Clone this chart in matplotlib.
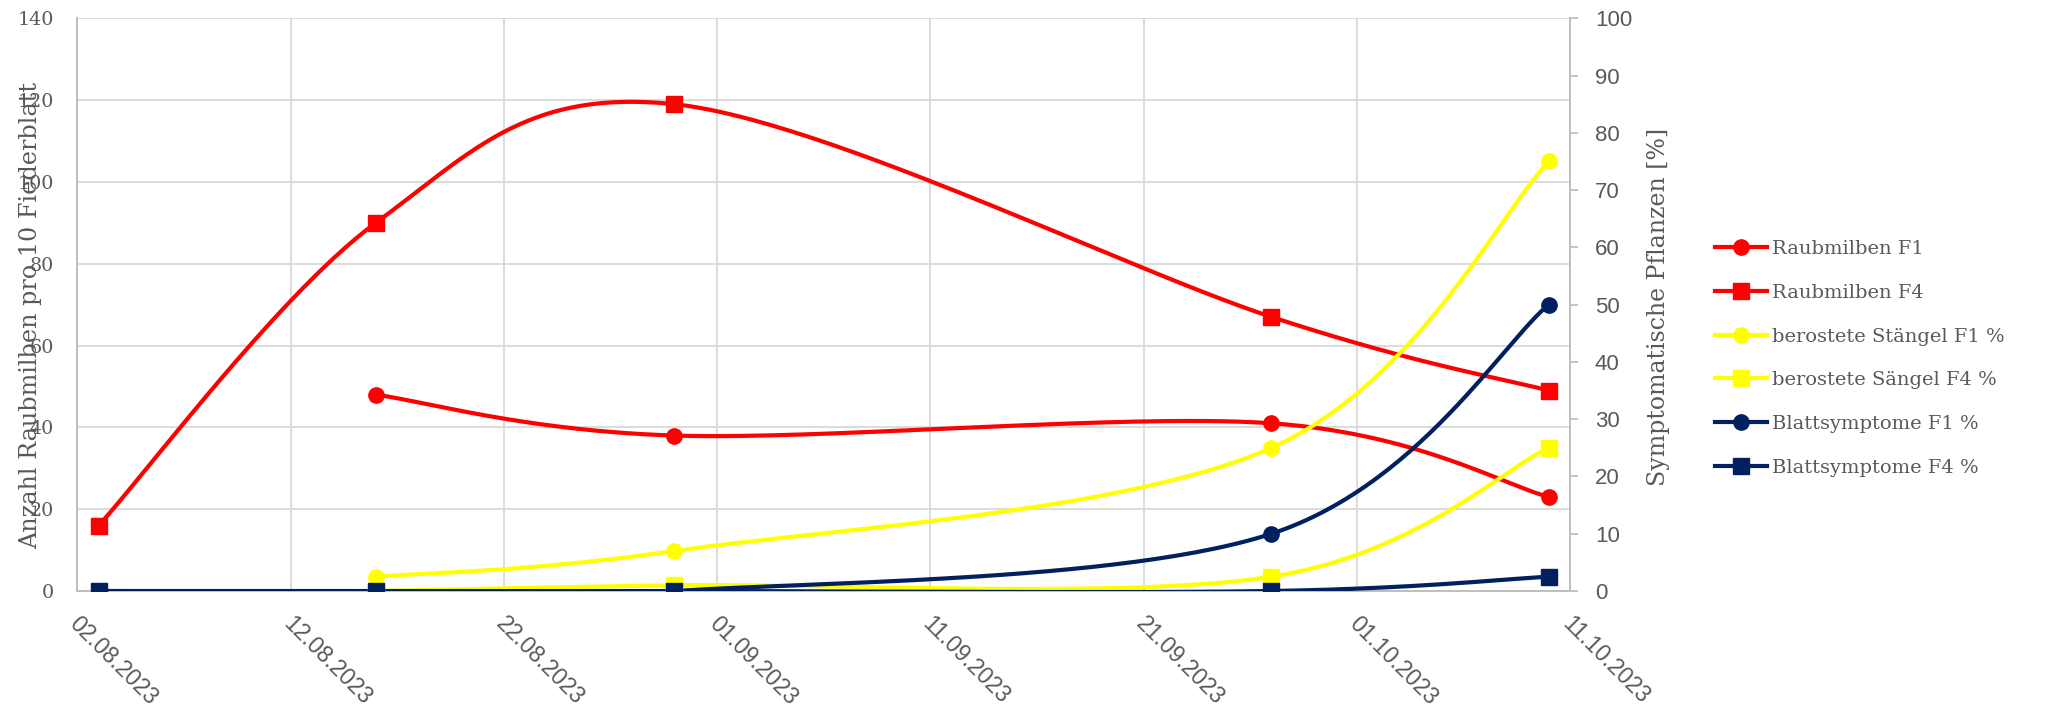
import numpy as np
import matplotlib
matplotlib.use("Agg")
import matplotlib.pyplot as plt
import matplotlib.dates as mdates
import matplotlib.transforms as mtransforms
from datetime import date

# ---- data -------------------------------------------------------------
dates_all = ["03.08.2023", "16.08.2023", "30.08.2023", "27.09.2023", "10.10.2023"]
dates_late = ["16.08.2023", "30.08.2023", "27.09.2023", "10.10.2023"]

raubmilben_f1 = [48, 38, 41, 23]            # left axis, from 16.08
raubmilben_f4 = [16, 90, 119, 67, 49]       # left axis, from 03.08
stengel_f1 = [2.5, 7, 25, 75]               # right axis (%), from 16.08
stengel_f4 = [0, 1, 2.5, 25]                # right axis (%), from 16.08
blatt_f1 = [0, 0, 10, 50]                   # right axis (%), from 16.08
blatt_f4 = [0, 0, 0, 0, 2.5]                # right axis (%), from 03.08

series_labels = ["Raubmilben F1", "Raubmilben F4", "berostete Stängel F1 %",
                 "berostete Sängel F4 %", "Blattsymptome F1 %", "Blattsymptome F4 %"]

x_start = "02.08.2023"
x_end = "11.10.2023"
tick_step_days = 10

left_label = "Anzahl Raubmilben pro 10 Fiederblatt"
right_label = "Symptomatische Pflanzen [%]"

RED = "#FF0000"
YELLOW = "#FFFF00"
NAVY = "#002060"
TEXT = "#595959"
GRID = "#D9D9D9"
AXIS = "#BFBFBF"


def to_num(s):
    d, m, y = (int(p) for p in s.split("."))
    return mdates.date2num(date(y, m, d))


def smooth(xs, ys, n=60):
    """Bezier smoothing through all points (spreadsheet-style smoothed line)."""
    P = np.column_stack([xs, ys]).astype(float)
    k = len(P)
    out = [P[0:1]]
    t = np.linspace(0, 1, n)[1:, None]
    for i in range(k - 1):
        p0 = P[i - 1] if i > 0 else P[i]
        p1, p2 = P[i], P[i + 1]
        p3 = P[i + 2] if i + 2 < k else P[i + 1]
        c1 = p1 + (p2 - p0) / 6.0
        c2 = p2 - (p3 - p1) / 6.0
        seg = ((1 - t) ** 3) * p1 + 3 * ((1 - t) ** 2) * t * c1 + 3 * (1 - t) * t ** 2 * c2 + t ** 3 * p2
        out.append(seg)
    pts = np.vstack(out)
    return pts[:, 0], pts[:, 1]


x_all = [to_num(s) for s in dates_all]
x_late = [to_num(s) for s in dates_late]

fig = plt.figure(figsize=(20.48, 7.09), dpi=100)
ax = fig.add_axes([0.03774, 0.16643, 0.72886, 0.80776])
ax2 = ax.twinx()

LW = 3.0
MS = 11

def draw(axis, xs, ys, color, marker, label):
    sx, sy = smooth(xs, ys)
    axis.plot(sx, sy, color=color, lw=LW, solid_capstyle="round", zorder=3)
    axis.plot(xs, ys, linestyle="none", marker=marker, ms=MS, color=color,
              markeredgecolor=color, zorder=4)
    return plt.Line2D([], [], color=color, lw=LW, marker=marker, ms=MS,
                      markeredgecolor=color, label=label)

handles = []
handles.append(draw(ax, x_late, raubmilben_f1, RED, "o", series_labels[0]))
handles.append(draw(ax, x_all, raubmilben_f4, RED, "s", series_labels[1]))
handles.append(draw(ax2, x_late, stengel_f1, YELLOW, "o", series_labels[2]))
handles.append(draw(ax2, x_late, stengel_f4, YELLOW, "s", series_labels[3]))
handles.append(draw(ax2, x_late, blatt_f1, NAVY, "o", series_labels[4]))
handles.append(draw(ax2, x_all, blatt_f4, NAVY, "s", series_labels[5]))

# ---- axes ---------------------------------------------------------------
x0, x1 = to_num(x_start), to_num(x_end)
ax.set_xlim(x0, x1)
ax.set_ylim(0, 140)
ax2.set_ylim(0, 100)
ax.set_yticks(np.arange(0, 141, 20))
ax2.set_yticks(np.arange(0, 101, 10))
xt = np.arange(x0, x1 + 0.5, tick_step_days)
ax.set_xticks(xt)
ax.xaxis.set_major_formatter(mdates.DateFormatter("%d.%m.%Y"))

ax.grid(True, color=GRID, lw=1.3, zorder=0)
ax.set_axisbelow(True)

for s in ["top", "right"]:
    ax.spines[s].set_visible(False)
for s in ["top", "left", "bottom"]:
    ax2.spines[s].set_visible(False)
for s in ["left", "bottom"]:
    ax.spines[s].set_color(AXIS)
    ax.spines[s].set_linewidth(1.4)
ax2.spines["right"].set_color(AXIS)
ax2.spines["right"].set_linewidth(1.4)

ax.tick_params(axis="y", length=0, pad=17, labelsize=13.8, labelcolor=TEXT)
ax.tick_params(axis="x", length=0, pad=15, labelsize=16.5, labelcolor=TEXT)
ax2.tick_params(axis="y", length=6, width=1.3, color=AXIS, pad=12,
                labelsize=16, labelcolor=TEXT)

for lab in ax.get_yticklabels():
    lab.set_fontfamily("DejaVu Serif")
for lab in ax2.get_yticklabels():
    lab.set_fontfamily("Liberation Sans")

offset = mtransforms.ScaledTranslation(4 / 100, 0, fig.dpi_scale_trans)
for lab in ax.get_xticklabels():
    lab.set_fontfamily("Liberation Sans")
    lab.set_rotation(-45)
    lab.set_ha("left")
    lab.set_va("top")
    lab.set_rotation_mode("anchor")
    lab.set_transform(lab.get_transform() + offset)

# axis titles
fig.text(0.0150, 0.5557, left_label, rotation=90, ha="center", va="center",
         fontsize=17.2, color=TEXT, family="DejaVu Serif")
fig.text(0.8096, 0.567, right_label, rotation=90, ha="center", va="center",
         fontsize=17, color=TEXT, family="DejaVu Serif")

leg = fig.legend(handles=handles, loc="center left", bbox_to_anchor=(0.8374, 0.4944),
                 frameon=False, handlelength=2.7, handletextpad=0.25,
                 labelspacing=1.32, borderpad=0, borderaxespad=0,
                 prop={"family": "DejaVu Serif", "size": 14})
for t in leg.get_texts():
    t.set_color(TEXT)

fig.savefig("out.png", dpi=100, facecolor="white")
